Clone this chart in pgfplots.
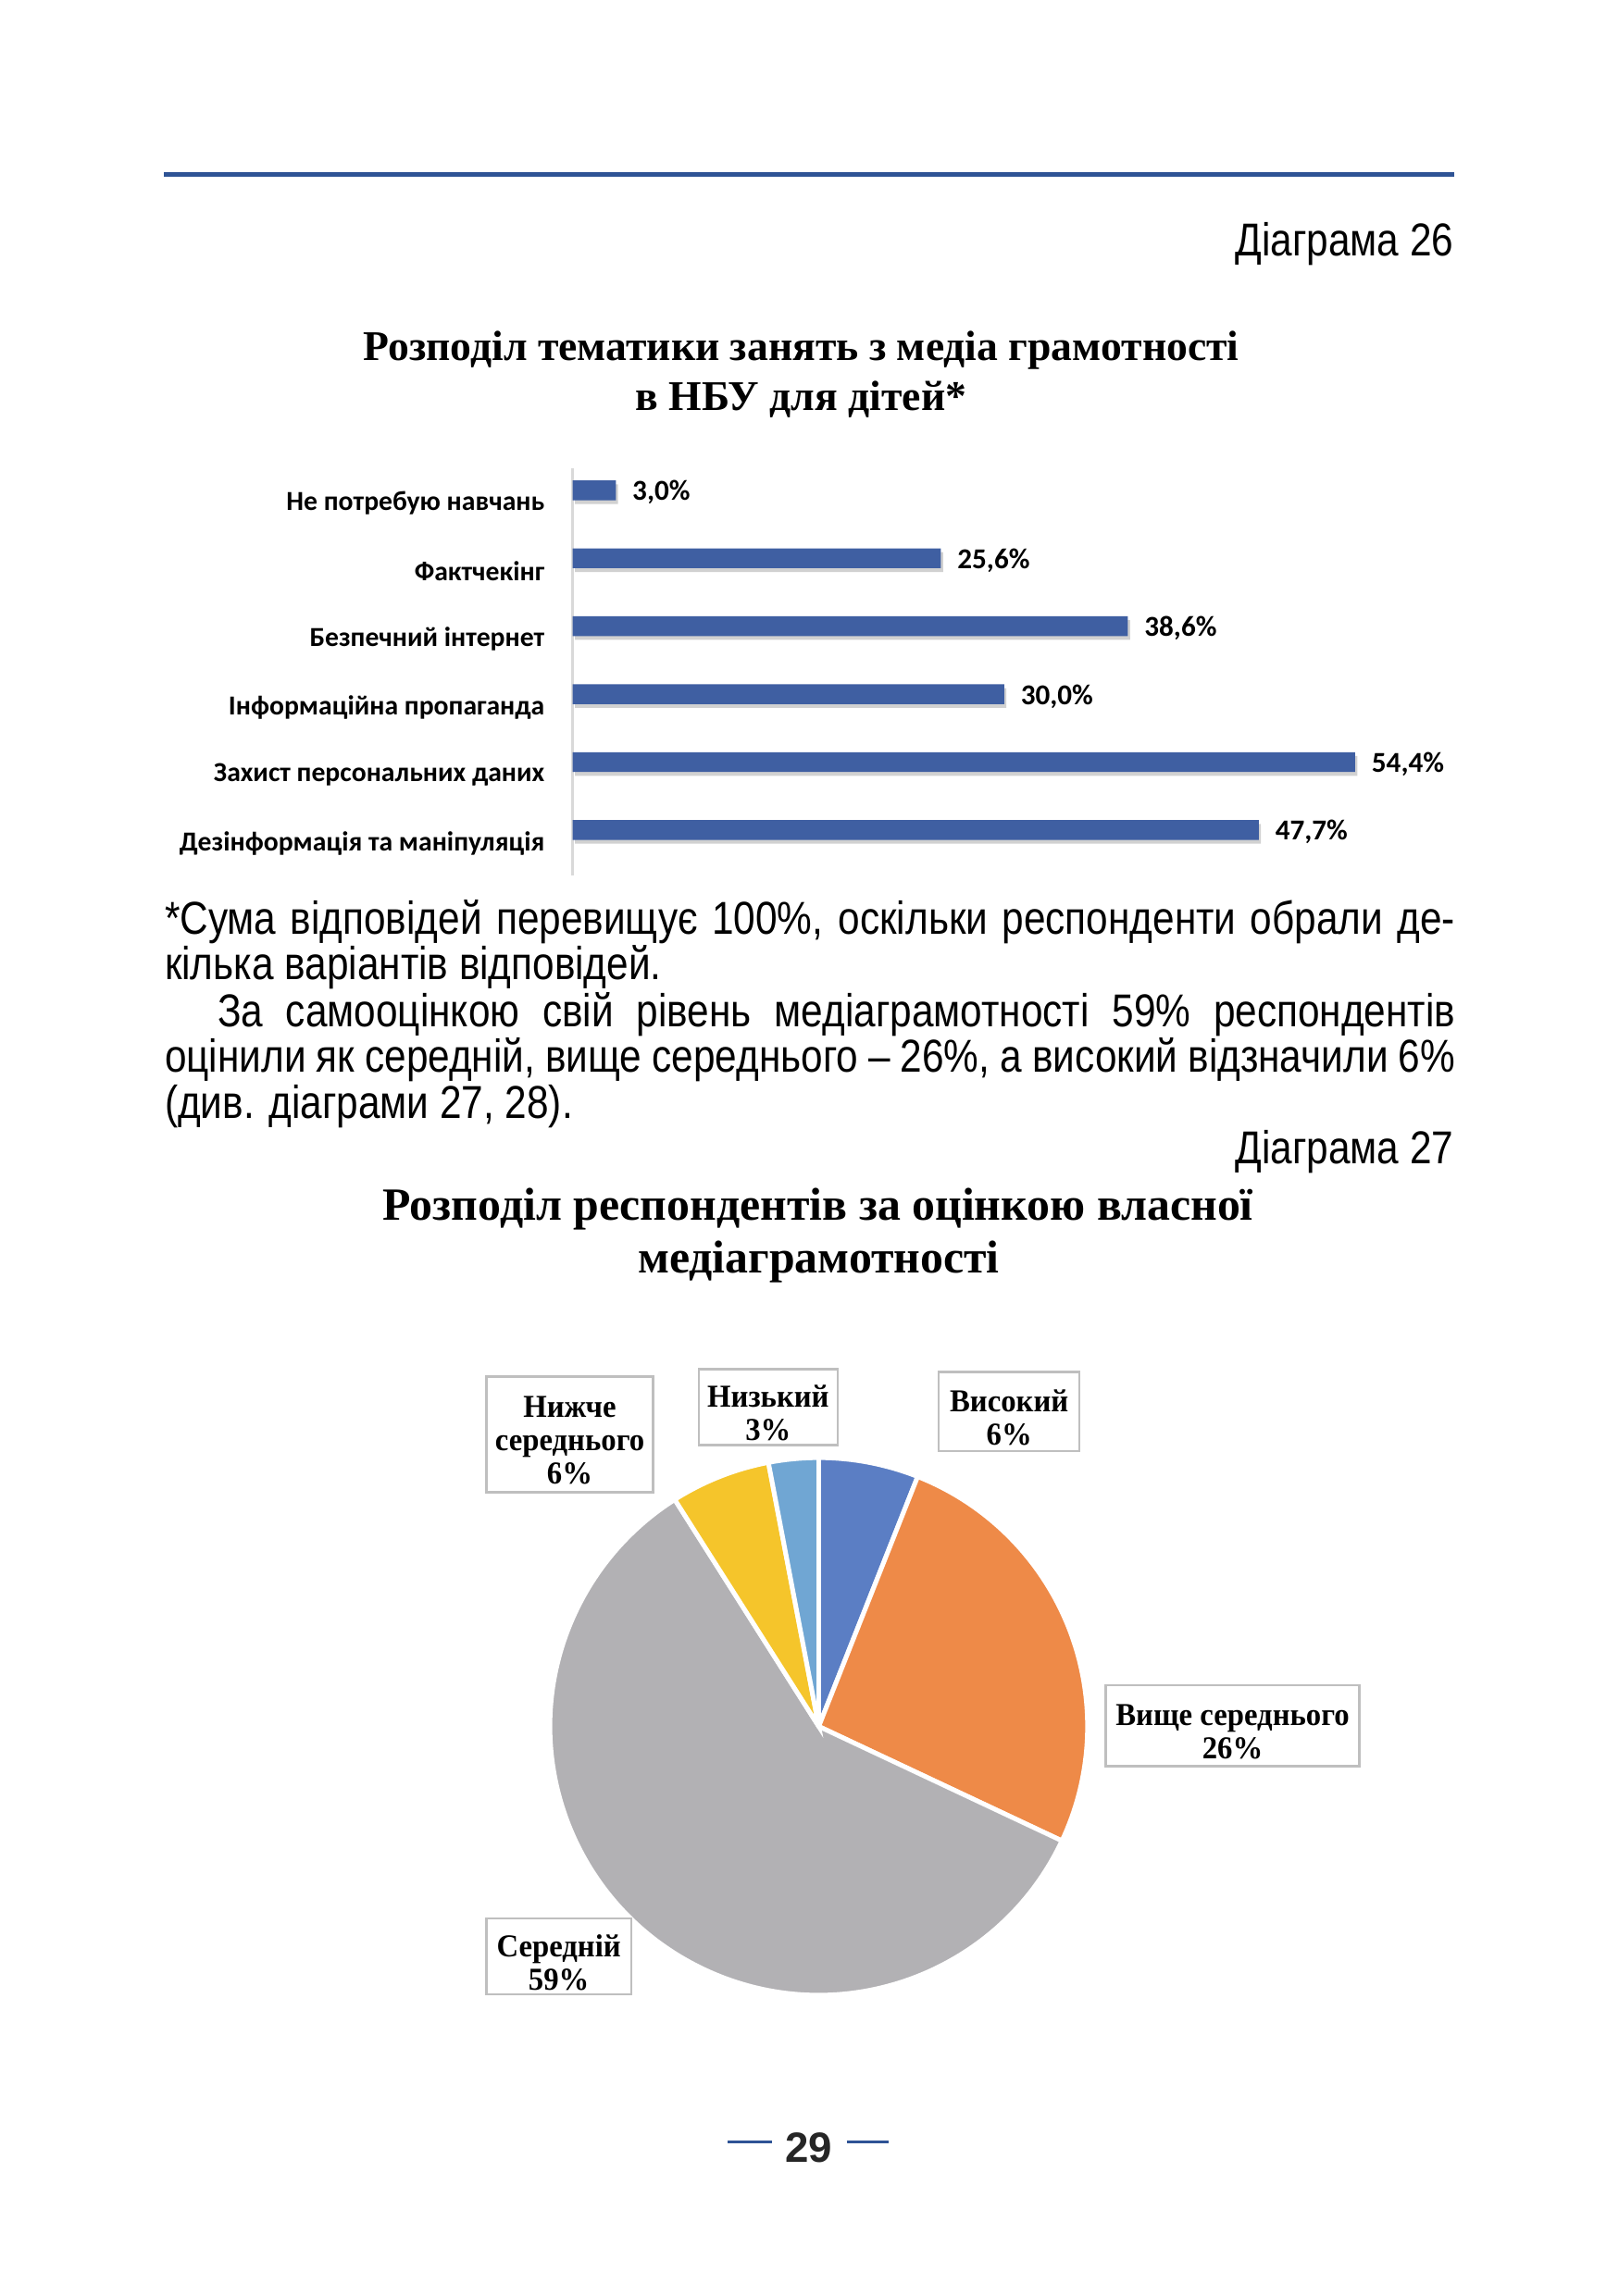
\documentclass[border=0pt]{standalone}
\usepackage{fontspec}
\usepackage{pgfplots}
\pgfplotsset{compat=1.18}
\usepackage{pgfplotstable}
\setmainfont{Liberation Sans}
\newfontfamily\bodyfont{Liberation Sans}[FakeStretch=0.85]
\newfontfamily\serifbf{Liberation Serif}
\newfontfamily\serifcond{Liberation Serif}[FakeStretch=0.95]
\newfontfamily\calfont{Carlito}
\newfontfamily\pagefont{Liberation Sans}
\definecolor{rulecol}{HTML}{2E5395}
\definecolor{barblue}{HTML}{3F5FA2}
\definecolor{axisgray}{HTML}{D9D9D9}
\definecolor{boxgray}{HTML}{BFBFBF}
\definecolor{pieblue}{HTML}{5B7EC4}
\definecolor{pieorange}{HTML}{EE8A48}
\definecolor{piegray}{HTML}{B2B1B4}
\definecolor{pieyellow}{HTML}{F5C52B}
\definecolor{pielblue}{HTML}{70A6D3}

\pgfplotstableread{
idx value
0 3.0
1 25.6
2 38.6
3 30.0
4 54.4
5 47.7
}\bardata

% start percentage, percentage, colour
\newcommand\pieslice[3]{%
  \fill[#3, draw=white, line width=1.2pt] (axis cs:0,0) --
    (axis cs:{183.5*cos(90-3.6*#1)},{183.5*sin(90-3.6*#1)})
    arc[start angle={90-3.6*#1}, end angle={90-3.6*(#1+#2)}, radius=24.577mm] -- cycle;}
% x, y, width, height, text
\newcommand\pielabel[5]{%
  \node[draw=boxgray, line width=0.6pt, fill=white, inner sep=0pt, minimum width=#3, minimum height=#4] at (axis cs:#1,#2) {};
  \node[align=center, inner sep=0pt, yshift=-0.55mm, font=\serifcond\bfseries\fontsize{8.3}{8.7}\selectfont] at (axis cs:#1,#2) {#5};}

\begin{document}
\begin{tikzpicture}[x=0.133937mm,y=-0.133937mm]
\path[use as bounding box, fill=white] (0,0) rectangle (1105,1568);
\coordinate (barNW) at (391,320);
\coordinate (pieC) at (559,1179);
\draw[rulecol, line width=0.4mm] (112,119) -- (993,119);

\node[anchor=base east, inner sep=0pt, font=\bodyfont\fontsize{12}{14}\selectfont] at (993,175) {Діаграма 26};

\node[anchor=base, inner sep=0pt, font=\serifbf\bfseries\fontsize{11}{13}\selectfont] at (547,246) {Розподіл тематики занять з медіа грамотності};
\node[anchor=base, inner sep=0pt, font=\serifbf\bfseries\fontsize{11}{13}\selectfont] at (547,280) {в НБУ для дітей*};

\begin{axis}[at={(barNW)}, anchor=north west,
  x=1.3153mm, y=6.2147mm, y dir=reverse,
  xmin=0, xmax=60, ymin=-0.32, ymax=5.67,
  axis x line=none, axis y line*=left,
  y axis line style={draw=axisgray, line width=0.7pt, -},
  ytick={0,...,5},
  yticklabels={Не потребую навчань, Фактчекінг, Безпечний інтернет, Інформаційна пропаганда, Захист персональних даних, Дезінформація та маніпуляція},
  major tick length=0pt,
  yticklabel style={font=\calfont\bfseries\fontsize{7.15}{8}\selectfont, anchor=east, inner sep=0pt, xshift=-2.5mm, yshift=-1.2mm},
  clip=false]
\addplot[xbar, fill=black, opacity=0.18, draw=none, bar width=1.81mm, yshift=-0.35mm, xshift=0.2mm, forget plot] table[x=value, y=idx]{\bardata};
\addplot[xbar, fill=barblue, draw=none, bar width=1.81mm,
  point meta=x,
  nodes near coords={\pgfmathprintnumber[fixed,fixed zerofill,precision=1,use comma,assume math mode=true]{\pgfplotspointmeta}\%},
  nodes near coords style={font=\calfont\bfseries\fontsize{7.5}{8}\selectfont, anchor=west, inner sep=0pt, xshift=1.45mm, yshift=-0.2mm, text=black}]
  table[x=value, y=idx]{\bardata};
\end{axis}

\begin{scope}[every node/.style={inner sep=0pt, anchor=base west, font=\bodyfont\fontsize{12}{14}\selectfont}]
\node at (112,638) {\makebox[118mm][s]{*Сума відповідей перевищує 100\%, оскільки респонденти обрали де-}};
\node at (112,669) {кілька варіантів відповідей.};
\node at (148,701) {\makebox[113.2mm][s]{За самооцінкою свій рівень медіаграмотності 59\% респондентів}};
\node at (112,732) {\makebox[118mm][s]{оцінили як середній, вище середнього – 26\%, а високий відзначили 6\%}};
\node at (112,764) {(див. діаграми 27, 28).};
\end{scope}
\node[anchor=base east, inner sep=0pt, font=\bodyfont\fontsize{12}{14}\selectfont] at (993,795) {Діаграма 27};

\node[anchor=base, inner sep=0pt, font=\serifbf\bfseries\fontsize{12}{14}\selectfont] at (558.5,833) {Розподіл респондентів за оцінкою власної};
\node[anchor=base, inner sep=0pt, font=\serifbf\bfseries\fontsize{12}{14}\selectfont] at (559,869) {медіаграмотності};

\begin{axis}[at={(pieC)}, anchor=center, x=0.133937mm, y=0.133937mm,
  xmin=-200, xmax=200, ymin=-200, ymax=200, hide axis, clip=false]
\pieslice{0}{6}{pieblue}
\pieslice{6}{26}{pieorange}
\pieslice{32}{59}{piegray}
\pieslice{91}{6}{pieyellow}
\pieslice{97}{3}{pielblue}
\pielabel{-170}{199.5}{15.27mm}{10.58mm}{Нижче\\середнього\\6\%}
\pielabel{-34.5}{218}{12.72mm}{6.96mm}{Низький\\3\%}
\pielabel{130}{215}{12.86mm}{7.23mm}{Високий\\6\%}
\pielabel{282.5}{0.5}{23.17mm}{7.37mm}{Вище середнього\\26\%}
\pielabel{-177.5}{-157}{13.26mm}{6.96mm}{Середній\\59\%}
\end{axis}

\draw[rulecol, line width=0.25mm] (497,1463) -- (527,1463);
\draw[rulecol, line width=0.25mm] (578,1463) -- (607,1463);
\node[inner sep=0pt, font=\pagefont\bfseries\fontsize{11}{13}\selectfont, text=black!85] at (552,1467) {29};
\end{tikzpicture}
\end{document}
